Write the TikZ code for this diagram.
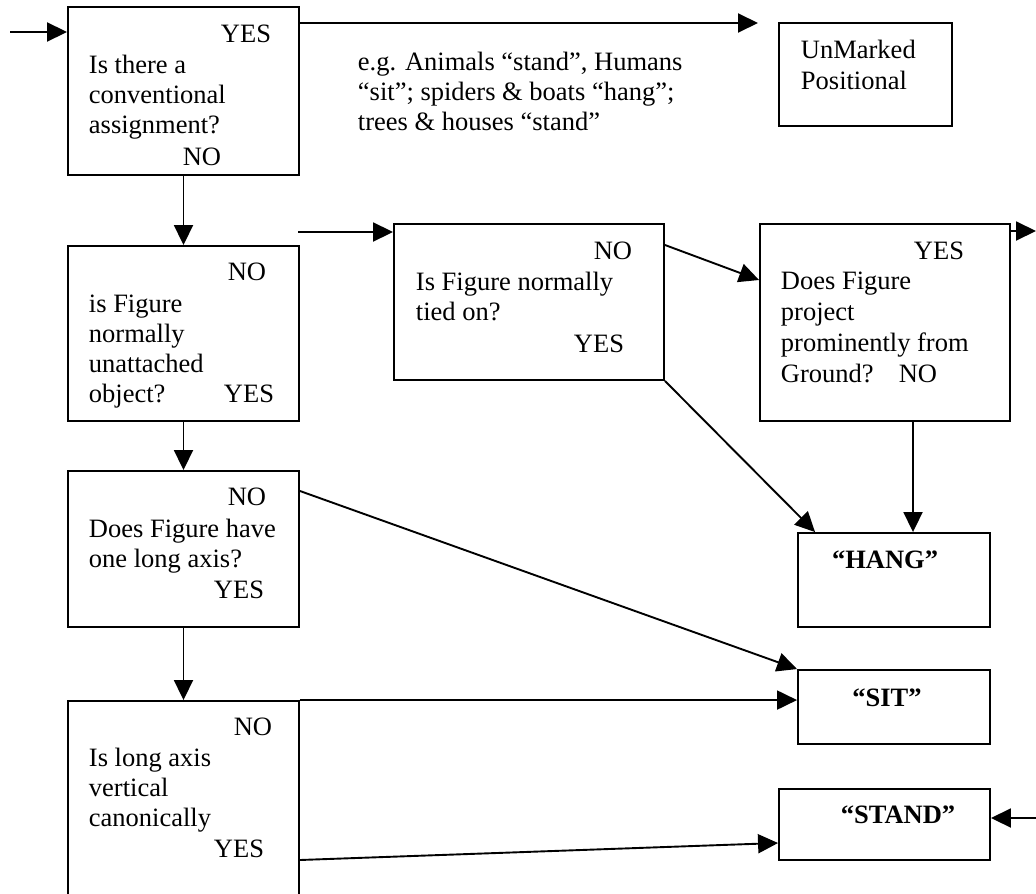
\documentclass[tikz,border=0pt]{standalone}
\usepackage{fontspec}
\setmainfont{Liberation Serif}
\usetikzlibrary{arrows.meta}
\begin{document}
\begin{tikzpicture}[x=1pt, y=-1pt, line width=1.9pt,
    every node/.style={font=\fontsize{26.5}{30}\selectfont, inner sep=0pt},
    box/.style={draw, rectangle},
    ask/.style={anchor=base west, align=left},
    yn/.style={anchor=base east},
    res/.style={anchor=base, font=\fontsize{26.5}{30}\selectfont\bfseries},
    arr/.style={-{Triangle[length=20pt, width=19pt]}}]
  \useasboundingbox (0,0) rectangle (1036,894);
  % question boxes
  \node[box, minimum width=231pt, minimum height=168pt] (conv) at (183.5,91) {};
  \node[box, minimum width=231pt, minimum height=175pt] (unatt) at (183.5,333.5) {};
  \node[box, minimum width=270pt, minimum height=156pt] (tied) at (529,302) {};
  \node[box, minimum width=250pt, minimum height=197pt] (project) at (885,322.5) {};
  \node[box, minimum width=231pt, minimum height=156pt] (longaxis) at (183.5,549) {};
  \node[box, minimum width=231pt, minimum height=209pt] (vertical) at (183.5,805.5) {};
  % answer boxes
  \node[box, minimum width=173pt, minimum height=103pt] (unmarked) at (865.5,74.5) {};
  \node[box, minimum width=192pt, minimum height=94pt] (hang) at (894,580) {};
  \node[box, minimum width=192pt, minimum height=74pt] (sit) at (894,707) {};
  \node[box, minimum width=211pt, minimum height=71pt] (stand) at (884.5,824.5) {};
  % texts (base = last line)
  \node[yn] (conv-yes) at (272,42) {YES};
  \node[ask] (conv-q) at (88,133) {Is there a\\conventional\\assignment?};
  \node[yn] (conv-no) at (222,165) {NO};
  \node[ask] (note) at (357,130) {e.g. Animals “stand”, Humans\\“sit”; spiders \& boats “hang”;\\trees \& houses “stand”};
  \node[ask, font=\fontsize{26.5}{31}\selectfont] (unmarked-t) at (800,89) {UnMarked\\Positional};
  \node[yn] (unatt-no) at (267,280) {NO};
  \node[ask] (unatt-q) at (88,402) {is Figure\\normally\\unattached\\object?};
  \node[yn] (unatt-yes) at (275,402) {YES};
  \node[yn] (tied-no) at (633,259) {NO};
  \node[ask] (tied-q) at (415,320) {Is Figure normally\\tied on?};
  \node[yn] (tied-yes) at (625,352) {YES};
  \node[yn] (project-yes) at (965,259) {YES};
  \node[ask, font=\fontsize{26.5}{31}\selectfont] (project-q) at (780,382) {Does Figure\\project\\prominently from\\Ground?};
  \node[yn] (project-no) at (938,382) {NO};
  \node[yn] (longaxis-no) at (267,505) {NO};
  \node[ask] (longaxis-q) at (88,567) {Does Figure have\\one long axis?};
  \node[yn] (longaxis-yes) at (265,598) {YES};
  \node[yn] (vertical-no) at (273,735) {NO};
  \node[ask] (vertical-q) at (88,826) {Is long axis\\vertical\\canonically};
  \node[yn] (vertical-yes) at (265,857) {YES};
  \node[res] (hang-t) at (885,568) {“HANG”};
  \node[res] (sit-t) at (887,706) {“SIT”};
  \node[res] (stand-t) at (898,823) {“STAND”};
  % connectors
  \coordinate (start) at (10,32);
  \coordinate (umtip) at (758,23);
  \coordinate (tiedin) at (298,232);
  \coordinate (out) at (1036,231);
  \coordinate (standin) at (1036,818);
  \draw[arr] (start) -- (start -| conv.west);
  \draw[arr] (umtip -| conv.east) -- (umtip);
  \draw[arr] (conv.south) -- (unatt.north);
  \draw[arr] (unatt.south) -- (longaxis.north);
  \draw[arr] (longaxis.south) -- (vertical.north);
  \draw[arr] (tiedin) -- (tiedin -| tied.west);
  \draw[arr] (tied.east |- 0,245) -- (project.west |- 0,280);
  \draw[arr] (out -| project.east) -- (out);
  \draw[arr] (tied.south east) -- ([xshift=18pt]hang.north west);
  \draw[arr] (project.south -| 913,0) -- (hang.north -| 913,0);
  \draw[arr] (longaxis.east |- 0,491) -- (sit.north west);
  \draw[arr] (vertical.north east) -- (vertical.north east -| sit.west);
  \draw[arr] (vertical.east |- 0,860) -- (stand.west |- 0,843);
  \draw[arr] (standin) -- (standin -| stand.east);
\end{tikzpicture}
\end{document}
